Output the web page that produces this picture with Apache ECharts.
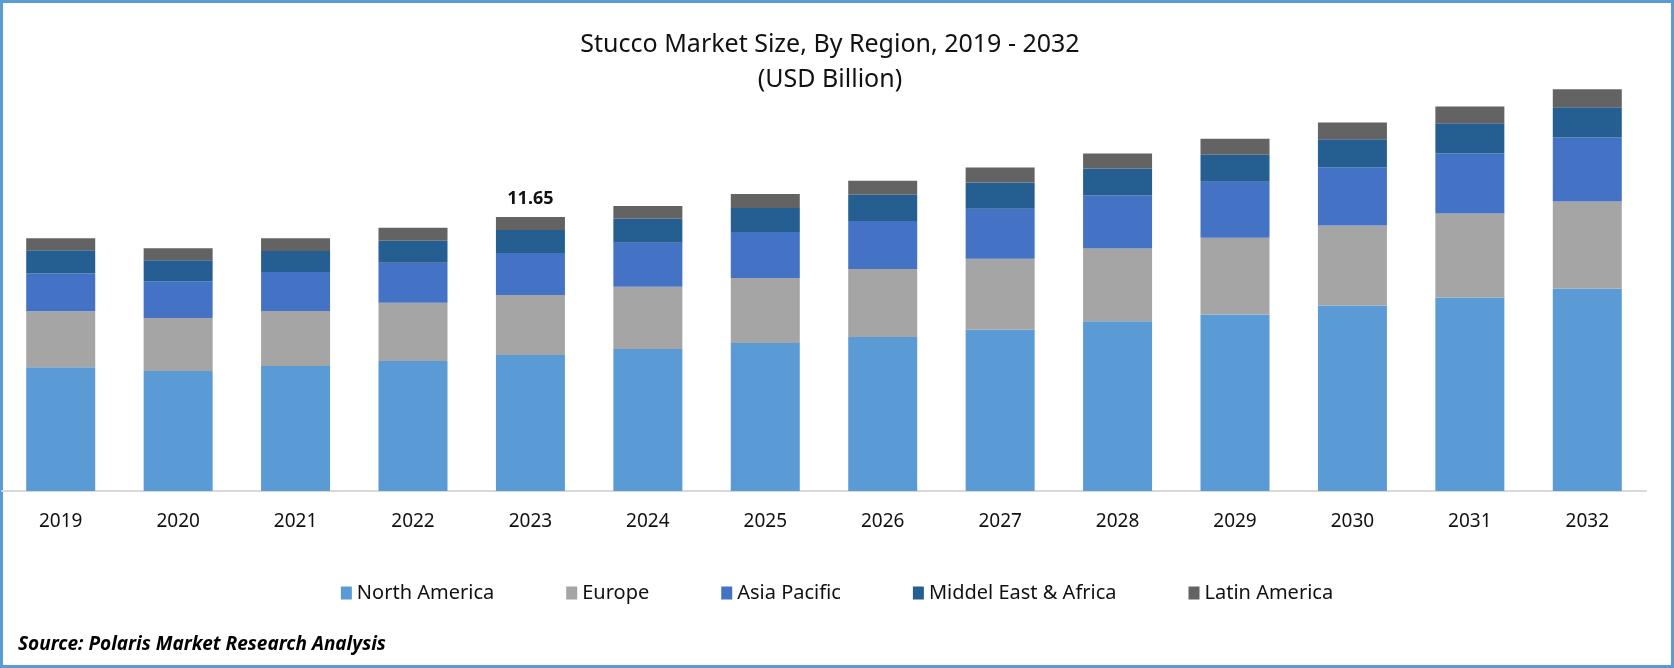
<!DOCTYPE html>
<html>
<head>
<meta charset="utf-8">
<script src="https://cdn.jsdelivr.net/npm/echarts@6/dist/echarts.min.js"></script>
<style>
html,body{margin:0;padding:0;background:#fff;}
#chart{width:1674px;height:668px;}
</style>
</head>
<body>
<div id="chart"></div>
<script>
const years = ['2019','2020','2021','2022','2023','2024','2025','2026','2027','2028','2029','2030','2031','2032'];
const northAmerica = [5.26,5.10,5.31,5.53,5.78,6.04,6.29,6.55,6.85,7.22,7.50,7.89,8.23,8.61];
const europe       = [2.38,2.25,2.34,2.47,2.55,2.64,2.76,2.89,3.02,3.09,3.27,3.40,3.57,3.70];
const asiaPacific  = [1.61,1.57,1.66,1.70,1.79,1.87,1.96,2.04,2.13,2.25,2.38,2.47,2.55,2.72];
const middleEastAfrica = [0.98,0.89,0.89,0.94,0.98,1.02,1.02,1.11,1.11,1.15,1.15,1.19,1.28,1.28];
const latinAmerica = [0.51,0.51,0.55,0.55,0.55,0.55,0.60,0.60,0.64,0.64,0.68,0.72,0.72,0.77];
const labelIndex = 4;
const labelText = '11.65';

const FONT = '"Noto Sans", "Open Sans", sans-serif';
const colors = ['#5B9BD5','#A5A5A5','#4472C4','#255E91','#636363'];
const names = ['North America','Europe','Asia Pacific','Middel East & Africa','Latin America'];
const seriesData = [northAmerica, europe, asiaPacific, middleEastAfrica, latinAmerica];

const chart = echarts.init(document.getElementById('chart'), null, {renderer:'canvas'});
const series = seriesData.map((arr, i) => ({
  name: names[i],
  type: 'bar',
  stack: 'total',
  barWidth: 69,
  itemStyle: {color: colors[i]},
  data: arr.map((v, j) => {
    if (i === 4 && j === labelIndex) {
      return {value: v, label: {show: true, position: 'top', distance: 9, formatter: labelText,
        fontFamily: FONT, fontSize: 18, fontWeight: 'bold', color: '#111'}};
    }
    return v;
  })
}));

chart.setOption({
  animation: false,
  color: colors,
  grid: {left: 2, right: 28, top: 67.6, bottom: 177, containLabel: false},
  xAxis: {
    type: 'category',
    data: years,
    axisLine: {show: true, lineStyle: {color: '#D9D9D9', width: 2}},
    axisTick: {show: false},
    axisLabel: {margin: 21, fontFamily: FONT, fontSize: 19, color: '#111'}
  },
  yAxis: {type: 'value', min: 0, max: 18, show: false, splitLine: {show: false}},
  legend: {
    left: 'center',
    top: 578,
    itemWidth: 11,
    itemHeight: 13,
    itemGap: 72,
    icon: 'rect',
    textStyle: {fontFamily: FONT, fontSize: 20, color: '#111'},
    data: names
  },
  graphic: [
    {type: 'rect', shape: {x: 1.5, y: 1.5, width: 1671, height: 665}, style: {fill: 'none', stroke: '#5B9BD5', lineWidth: 3}, silent: true},
    {type: 'text', x: 830, y: 45, style: {text: 'Stucco Market Size, By Region, 2019 - 2032', fontFamily: FONT, fontSize: 25, fill: '#111', textAlign: 'center', textVerticalAlign: 'middle'}},
    {type: 'text', x: 830, y: 80, style: {text: '(USD Billion)', fontFamily: FONT, fontSize: 25, fill: '#111', textAlign: 'center', textVerticalAlign: 'middle'}},
    {type: 'text', x: 18, y: 645, style: {text: 'Source: Polaris Market Research Analysis', fontFamily: FONT, fontSize: 19, fontWeight: 'bold', fontStyle: 'italic', fill: '#000', textAlign: 'left', textVerticalAlign: 'middle'}}
  ],
  series: series
});
</script>
</body>
</html>
